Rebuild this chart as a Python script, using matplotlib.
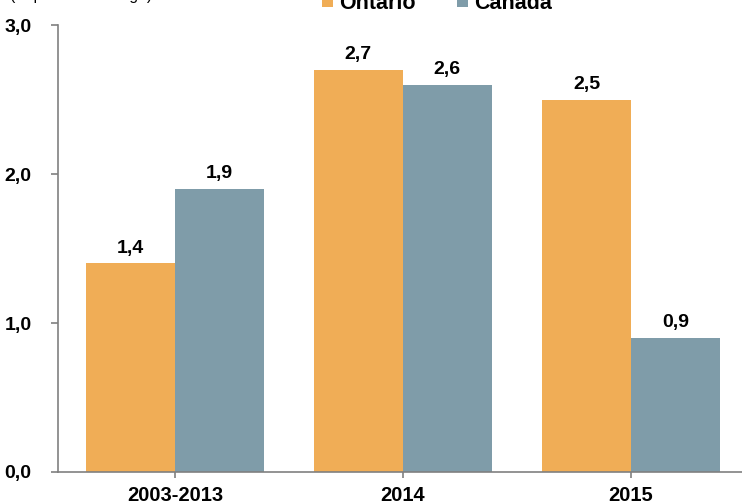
import matplotlib.pyplot as plt
import numpy as np

plt.rcParams['font.family'] = ['Liberation Sans', 'DejaVu Sans']

categories = ['2003-2013', '2014', '2015']
ontario = [1.4, 2.7, 2.5]
canada = [1.9, 2.6, 0.9]
labels_on = ['1,4', '2,7', '2,5']
labels_ca = ['1,9', '2,6', '0,9']
yticks = [0.0, 1.0, 2.0, 3.0]
ytick_labels = ['0,0', '1,0', '2,0', '3,0']

c_on = '#F0AD56'
c_ca = '#7F9CA9'
w = 0.39

fig = plt.figure(figsize=(7.42, 5.04), dpi=100)
ax = fig.add_axes([0.078, 0.0635, 0.922, 0.8865])

x = np.arange(len(categories))
b1 = ax.bar(x - w / 2, ontario, w, color=c_on, label='Ontario')
b2 = ax.bar(x + w / 2, canada, w, color=c_ca, label='Canada')

for bars, labs in ((b1, labels_on), (b2, labels_ca)):
    for r, t in zip(bars, labs):
        ax.annotate(t, (r.get_x() + r.get_width() / 2, r.get_height()),
                    xytext=(0, 5), textcoords='offset points',
                    ha='center', va='bottom', fontsize=14, fontweight='bold')

ax.set_xlim(-0.513, 2.487)
ax.set_ylim(0, 3.0)
ax.set_yticks(yticks)
ax.set_yticklabels(ytick_labels, fontsize=14, fontweight='bold')
ax.set_xticks(x)
ax.set_xticklabels(categories, fontsize=14.5, fontweight='bold')
ax.tick_params(axis='y', direction='out', length=5, color='#808080', width=1.2, pad=14)
ax.tick_params(axis='x', direction='out', length=4, color='#808080', width=1.2, pad=6)

for s in ['top', 'right']:
    ax.spines[s].set_visible(False)
for s in ['left', 'bottom']:
    ax.spines[s].set_color('#808080')
    ax.spines[s].set_linewidth(1.2)

fig.text(10 / 742, 1.0, '(% per cent change)', fontsize=11.3, va='baseline', ha='left')

fig.legend(loc='center', bbox_to_anchor=(0.589, 0.994), ncol=2, frameon=False,
           prop={'size': 15.5, 'weight': 'bold'}, handlelength=0.5, handleheight=0.5,
           handletextpad=0.3, columnspacing=1.9)

fig.savefig('out.png', dpi=100)
